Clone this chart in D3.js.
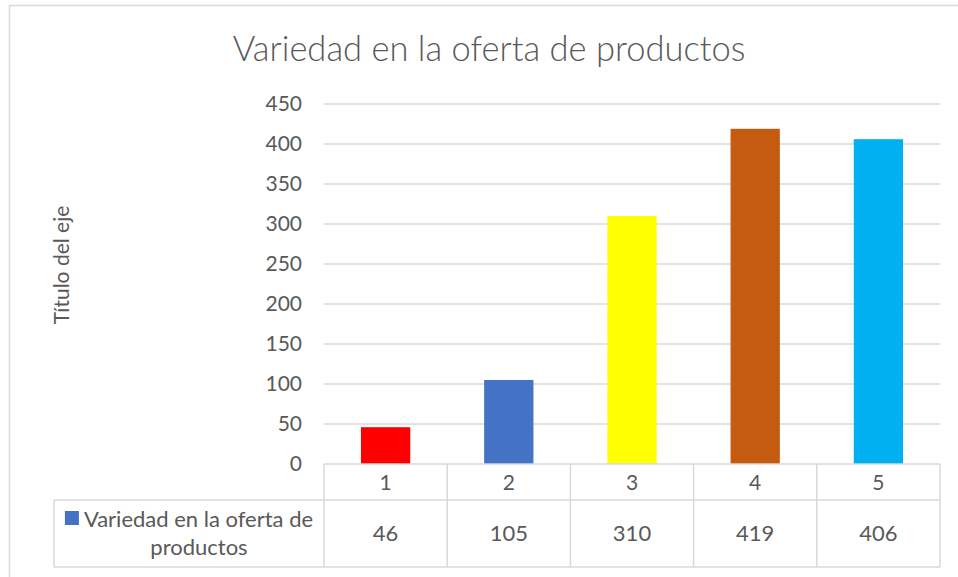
<!DOCTYPE html>
<html>
<head>
<meta charset="utf-8">
<script src="https://cdn.jsdelivr.net/npm/d3@7"></script>
<style>
  body { margin: 0; background: #fff; }
  text { font-family: Lato, "Open Sans", sans-serif; fill: #595959; }
</style>
</head>
<body>
<div id="chart"></div>
<script>
const categories = ["1", "2", "3", "4", "5"];
const values = [46, 105, 310, 419, 406];
const barColors = ["#FF0000", "#4472C4", "#FFFF00", "#C55A11", "#00B0F0"];
const yTicks = [0, 50, 100, 150, 200, 250, 300, 350, 400, 450];
const seriesName = "Variedad en la oferta de productos";
const chartTitle = "Variedad en la oferta de productos";
const axisTitle = "Título del eje";

const w = 958, h = 577;
const plotLeft = 324, plotRight = 940, plotTop = 104, plotBottom = 464;
const row1 = 500, row2 = 567, tableLeft = 54;
const gridColor = "#d9d9d9";

const svg = d3.select("#chart").append("svg")
  .attr("width", w).attr("height", h);

// chart border
svg.append("rect")
  .attr("x", 9.5).attr("y", 5.5)
  .attr("width", w + 20).attr("height", h + 20)
  .attr("fill", "#fff").attr("stroke", gridColor).attr("stroke-width", 1.5);

const x = d3.scaleBand().domain(categories).range([plotLeft, plotRight])
  .paddingInner(0.6).paddingOuter(0.3);
const y = d3.scaleLinear().domain([0, 450]).range([plotBottom, plotTop]);

// gridlines
svg.append("g").selectAll("line")
  .data(yTicks.filter(d => d > 0))
  .enter().append("line")
  .attr("x1", plotLeft).attr("x2", plotRight)
  .attr("y1", d => y(d)).attr("y2", d => y(d))
  .attr("stroke", gridColor).attr("stroke-width", 1.5);

// y axis labels
const yAxis = d3.axisLeft(y).tickValues(yTicks).tickSize(0).tickPadding(22);
const yg = svg.append("g").attr("transform", "translate(" + plotLeft + ",0)").call(yAxis);
yg.select(".domain").remove();
yg.selectAll("text").style("font-size", "21px").style("font-family", "Lato, 'Open Sans', sans-serif").attr("fill", "#595959");

// bars
svg.append("g").selectAll("rect")
  .data(values)
  .enter().append("rect")
  .attr("x", (d, i) => x(categories[i]))
  .attr("y", d => y(d))
  .attr("width", x.bandwidth())
  .attr("height", d => y(0) - y(d))
  .attr("fill", (d, i) => barColors[i]);

// data table
const step = x.step();
const tbl = svg.append("g").attr("stroke", gridColor).attr("stroke-width", 1.5);
tbl.append("line").attr("x1", plotLeft).attr("x2", plotRight).attr("y1", plotBottom).attr("y2", plotBottom);
tbl.append("line").attr("x1", tableLeft).attr("x2", plotRight).attr("y1", row1).attr("y2", row1);
tbl.append("line").attr("x1", tableLeft).attr("x2", plotRight).attr("y1", row2).attr("y2", row2);
tbl.append("line").attr("x1", tableLeft).attr("x2", tableLeft).attr("y1", row1).attr("y2", row2);
const edges = d3.range(categories.length + 1).map(i => plotLeft + i * step);
tbl.selectAll(".vl").data(edges).enter().append("line")
  .attr("x1", d => d).attr("x2", d => d)
  .attr("y1", plotBottom).attr("y2", row2);

svg.append("g").selectAll("text")
  .data(categories).enter().append("text")
  .attr("x", d => x(d) + x.bandwidth() / 2)
  .attr("y", 490)
  .attr("text-anchor", "middle")
  .style("font-size", "21px")
  .text(d => d);

svg.append("g").selectAll("text")
  .data(values).enter().append("text")
  .attr("x", (d, i) => x(categories[i]) + x.bandwidth() / 2)
  .attr("y", 541)
  .attr("text-anchor", "middle")
  .style("font-size", "22px")
  .text(d => d);

// legend cell
const words = seriesName.split(" ");
const line1 = words.slice(0, 5).join(" ");
const line2 = words.slice(5).join(" ");
const cellMid = (tableLeft + plotLeft) / 2;
const l1 = svg.append("text")
  .attr("y", 527)
  .style("font-size", "22px")
  .text(line1);
const l1w = l1.node().getComputedTextLength();
const keySize = 14, keyGap = 5;
const startX = cellMid - (l1w + keySize + keyGap) / 2;
l1.attr("x", startX + keySize + keyGap);
svg.append("rect")
  .attr("x", startX).attr("y", 511)
  .attr("width", keySize).attr("height", keySize)
  .attr("fill", "#4472C4");
svg.append("text")
  .attr("x", cellMid + 10).attr("y", 555)
  .attr("text-anchor", "middle")
  .style("font-size", "22px")
  .text(line2);

// title
svg.append("text")
  .attr("x", 489).attr("y", 61)
  .attr("text-anchor", "middle")
  .style("font-size", "34.5px")
  .style("font-weight", 300)
  .text(chartTitle);

// axis title
svg.append("text")
  .attr("transform", "translate(69,265) rotate(-90)")
  .attr("text-anchor", "middle")
  .style("font-size", "21px")
  .text(axisTitle);
</script>
</body>
</html>
